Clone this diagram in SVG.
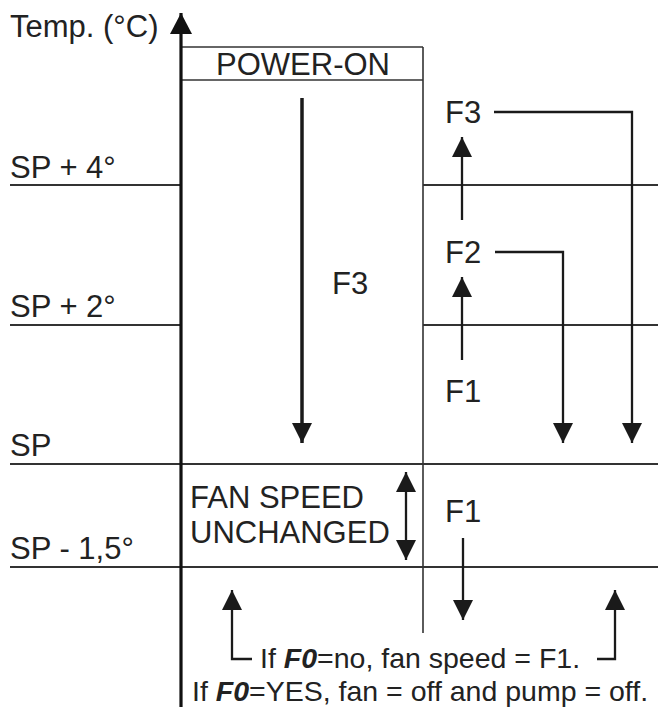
<svg xmlns="http://www.w3.org/2000/svg" width="658" height="707" viewBox="0 0 658 707">
<style>
  text { font-family: "Liberation Sans", Arial, sans-serif; font-size: 31px; fill: #222; }
  .small { font-size: 28.5px; }
  .bi { font-weight: bold; font-style: italic; }
  .grid { stroke: #333; stroke-width: 2; fill: none; }
  .thin { stroke: #333; stroke-width: 1.6; fill: none; }
  .axis { stroke: #111; stroke-width: 3.2; fill: none; }
  .arr { stroke: #1a1a1a; stroke-width: 2.3; fill: none; }
  .big { stroke: #1a1a1a; stroke-width: 3.5; fill: none; }
</style>
<defs>
  <marker id="head" markerUnits="userSpaceOnUse" markerWidth="20" markerHeight="20" refX="20" refY="10" orient="auto">
    <path d="M0,0 L20,10 L0,20 z" fill="#1a1a1a"/>
  </marker>
  <marker id="headAxis" markerUnits="userSpaceOnUse" markerWidth="21" markerHeight="22" refX="21" refY="11" orient="auto">
    <path d="M0,0 L21,11 L0,22 z" fill="#111"/>
  </marker>
  <marker id="headStart" markerUnits="userSpaceOnUse" markerWidth="20" markerHeight="20" refX="0" refY="10" orient="auto">
    <path d="M20,0 L0,10 L20,20 z" fill="#1a1a1a"/>
  </marker>
</defs>
<rect width="658" height="707" fill="#fff"/>

<g id="grid">
  <line class="grid" x1="10" y1="185" x2="181" y2="185"/>
  <line class="grid" x1="423" y1="185" x2="658" y2="185"/>
  <line class="grid" x1="10" y1="325" x2="181" y2="325"/>
  <line class="grid" x1="423" y1="325" x2="658" y2="325"/>
  <line class="grid" x1="10" y1="464" x2="658" y2="464"/>
  <line class="grid" x1="10" y1="567" x2="658" y2="567"/>
</g>

<g id="labels">
  <text x="10" y="37">Temp. (°C)</text>
  <text x="10" y="178">SP + 4°</text>
  <text x="10" y="317">SP + 2°</text>
  <text x="10" y="456">SP</text>
  <text x="10" y="559">SP - 1,5°</text>
</g>

<g id="power-on">
  <line class="thin" x1="181" y1="47" x2="423" y2="47"/>
  <line class="thin" x1="181" y1="80" x2="423" y2="80"/>
  <line class="thin" x1="423" y1="47" x2="423" y2="633"/>
  <text x="303" y="75" text-anchor="middle">POWER-ON</text>
  <text x="332" y="294">F3</text>
</g>

<g id="fan-unchanged">
  <text x="190" y="508">FAN SPEED</text>
  <text x="190" y="543">UNCHANGED</text>
</g>

<g id="right-labels">
  <text x="445" y="123">F3</text>
  <text x="445" y="263">F2</text>
  <text x="445" y="402">F1</text>
  <text x="445" y="522">F1</text>
</g>

<g id="bottom-note">
  <text class="small" x="260" y="668">If <tspan class="bi">F0</tspan>=no, fan speed = F1.</text>
  <text class="small" x="192" y="701">If <tspan class="bi">F0</tspan>=YES, fan = off and pump = off.</text>
</g>

<g id="connectors">
  <line class="axis" x1="181" y1="707" x2="181" y2="13" marker-end="url(#headAxis)"/>
  <line class="big" x1="302" y1="98" x2="302" y2="443" marker-end="url(#head)"/>
  <line class="arr" x1="462" y1="220" x2="462" y2="137" marker-end="url(#head)"/>
  <line class="arr" x1="462" y1="360" x2="462" y2="277" marker-end="url(#head)"/>
  <polyline class="arr" points="494,112 632,112 632,443" marker-end="url(#head)"/>
  <polyline class="arr" points="495,252 563,252 563,443" marker-end="url(#head)"/>
  <line class="arr" x1="406" y1="472" x2="406" y2="560" marker-start="url(#headStart)" marker-end="url(#head)"/>
  <line class="arr" x1="463" y1="538" x2="463" y2="620" marker-end="url(#head)"/>
  <polyline class="arr" points="252,659 232,659 232,590" marker-end="url(#head)"/>
  <polyline class="arr" points="597,659 615,659 615,590" marker-end="url(#head)"/>
</g>
</svg>
